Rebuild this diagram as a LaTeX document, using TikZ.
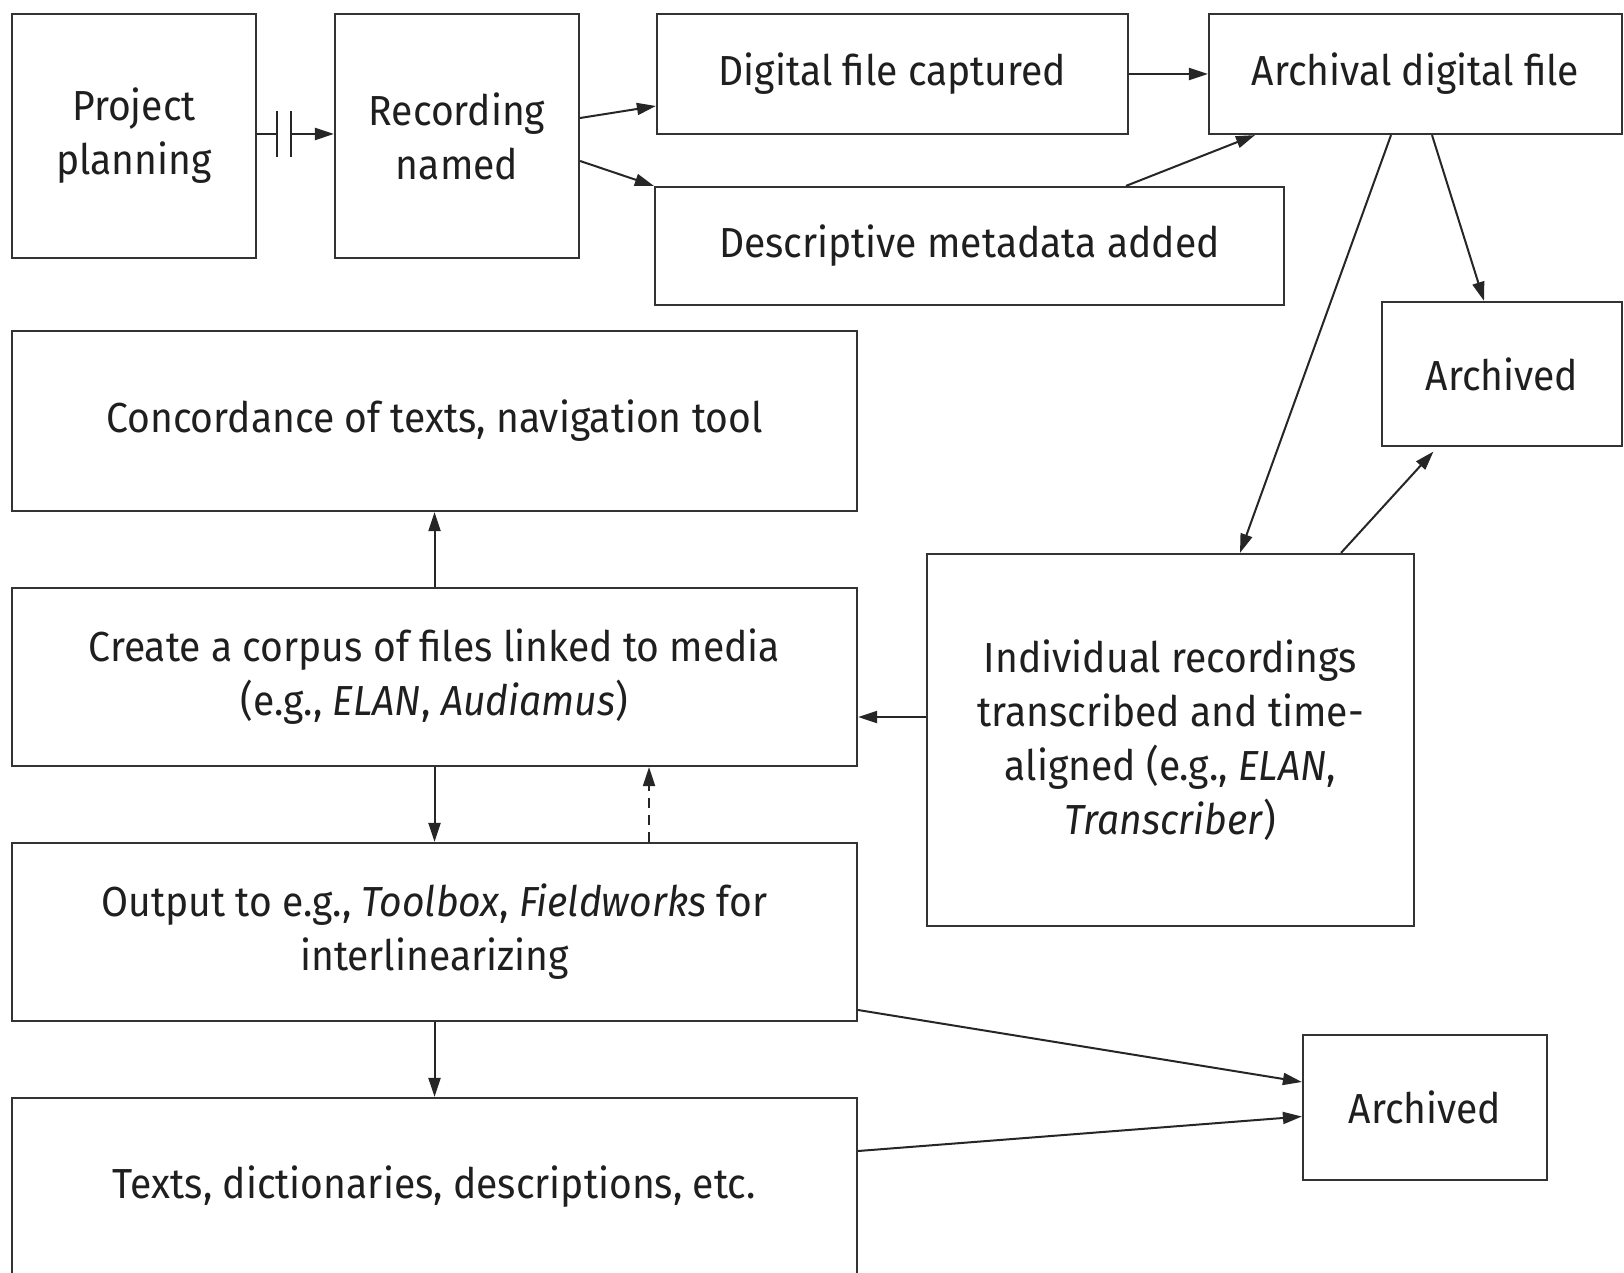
\documentclass[tikz,border=0pt]{standalone}
\usepackage{fontspec}
\setmainfont{Fira Sans}[FakeStretch=0.93]
\usetikzlibrary{arrows.meta,calc}
\begin{document}
\begin{tikzpicture}[x=1pt,y=-1pt]
\tikzset{
  box/.style={draw=black!80, line width=2.2pt, align=center, inner sep=0pt,
    text=black!88, font=\fontsize{42}{54}\selectfont},
  plain/.style={draw=black!85, line width=2pt},
  link/.style={plain, -{Triangle[length=19pt,width=12pt]}},
}
\path[use as bounding box, fill=white] (0,0) rectangle (1624,1273);

% boxes
\node[box, minimum width=244pt, minimum height=244pt] (pp) at (134,136) {Project\\planning};
\node[box, minimum width=244pt, minimum height=244pt] (rn) at (457,136) {Recording\\named};
\node[box, minimum width=471pt, minimum height=120pt] (dfc) at (892.5,74) {Digital file captured};
\node[box, minimum width=413pt, minimum height=120pt] (adf) at (1415.5,74) {Archival digital file};
\node[box, minimum width=629pt, minimum height=118pt] (dma) at (969.5,246) {Descriptive metadata added};
\node[box, minimum width=240pt, minimum height=144pt] (arA) at (1502,374) {Archived};
\node[box, minimum width=845pt, minimum height=180pt] (conc) at (434.5,421) {Concordance of texts, navigation tool};
\node[box, minimum width=845pt, minimum height=178pt] (corp) at (434.5,677) {Create a corpus of files linked to media\\(e.g., \textit{ELAN}, \textit{Audiamus})};
\node[box, minimum width=487pt, minimum height=372pt] (ind) at (1170.5,740) {Individual recordings\\transcribed and time-\\aligned (e.g., \textit{ELAN},\\\textit{Transcriber})};
\node[box, minimum width=845pt, minimum height=178pt] (out) at (434.5,932) {Output to e.g., \textit{Toolbox}, \textit{Fieldworks} for\\interlinearizing};
\node[box, minimum width=244pt, minimum height=145pt] (arB) at (1425,1107.5) {Archived};
\node[box, minimum width=845pt, minimum height=178pt] (txt) at (434.5,1187) {Texts, dictionaries, descriptions, etc.};

% planning to recording, with the break mark
\coordinate (b1) at ($(pp.east)+(20,-2)$);
\coordinate (b2) at ($(pp.east)+(34,-2)$);
\draw[plain] ($(pp.east)+(0,-2)$) -- (b1);
\draw[plain] ($(b1)+(0,-23)$) -- ($(b1)+(0,23)$);
\draw[plain] ($(b2)+(0,-23)$) -- ($(b2)+(0,23)$);
\draw[link] (b2) -- ($(rn.west)+(0,-2)$);

% top row
\draw[link] ($(rn.east)+(0,-18)$) -- ($(dfc.west)+(0,32)$);
\draw[link] ($(rn.east)+(0,25)$) -- (dma.north west);
\draw[link] (dfc.east) -- (adf.west);
\draw[link] ($(dma.north)+(156.5,0)$) -- ($(adf.south)+(-160.5,0)$);
\draw[link] ($(adf.south)+(-24.5,0)$) -- ($(ind.north)+(69.5,0)$);
\draw[link] ($(adf.south)+(16.5,0)$) -- ($(arA.north)+(-18,0)$);
\draw[link, shorten >=6pt] ($(ind.north)+(170.5,0)$) -- ($(arA.south)+(-64.5,0)$);

% left column
\draw[link] ($(ind.west)+(0,-23)$) -- ($(corp.east)+(0,40)$);
\draw[link] (corp.north) -- (conc.south);
\draw[link] (corp.south) -- (out.north);
\draw[link, dash pattern=on 10pt off 7pt] ($(out.north)+(214.5,0)$) -- ($(corp.south)+(214.5,0)$);
\draw[link] (out.south) -- (txt.north);

% to the lower archive
\draw[link] ($(out.east)+(0,78)$) -- ($(arB.west)+(0,-25.5)$);
\draw[link] ($(txt.east)+(0,-36)$) -- ($(arB.west)+(0,9)$);
\end{tikzpicture}
\end{document}
